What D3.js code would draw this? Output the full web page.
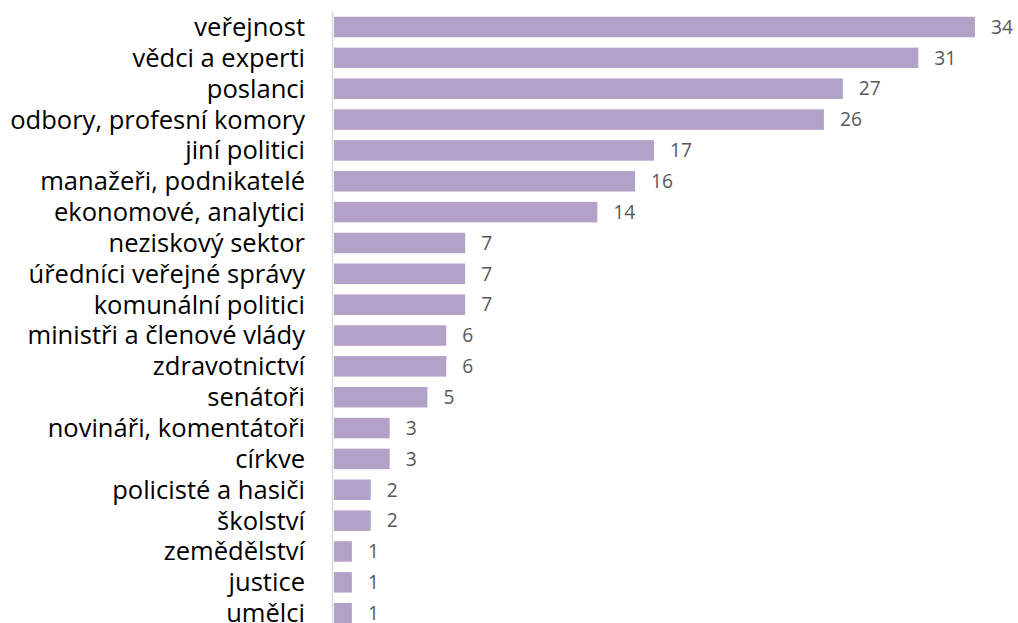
<!DOCTYPE html>
<html>
<head>
<meta charset="utf-8">
<script src="https://cdn.jsdelivr.net/npm/d3@7"></script>
<style>
  html, body { margin: 0; padding: 0; background: #fff; }
  svg { display: block; }
</style>
</head>
<body>
<svg id="chart" width="1018" height="623"></svg>
<script>
const categories = [
  "veřejnost", "vědci a experti", "poslanci", "odbory, profesní komory",
  "jiní politici", "manažeři, podnikatelé", "ekonomové, analytici",
  "neziskový sektor", "úředníci veřejné správy", "komunální politici",
  "ministři a členové vlády", "zdravotnictví", "senátoři",
  "novináři, komentátoři", "církve", "policisté a hasiči", "školství",
  "zemědělství", "justice", "umělci"
];
const values = [34, 31, 27, 26, 17, 16, 14, 7, 7, 7, 6, 6, 5, 3, 3, 2, 2, 1, 1, 1];

const FONT = "'Open Sans', 'Liberation Sans', sans-serif";
const svg = d3.select("#chart");
const x = d3.scaleLinear().domain([0, 34]).range([333, 975]);
const y = d3.scaleBand().domain(categories).range([11.6, 628.6]).paddingInner(0.335).paddingOuter(0.1675);

// size a font so a sample string takes a given width
function fitSize(sample, base, width) {
  const t = svg.append("text").attr("font-family", FONT).attr("font-size", base).text(sample);
  const w = t.node().getComputedTextLength();
  t.remove();
  return base * width / w;
}
const catSize = fitSize("odbory, profesní komory", 20, 295);
const valSize = fitSize("34", 16, 22);

// category axis line
svg.append("line")
  .attr("x1", 332.5).attr("x2", 332.5)
  .attr("y1", 11).attr("y2", 623)
  .attr("stroke", "#d9d9d9").attr("stroke-width", 1.5);

svg.selectAll("rect.bar")
  .data(categories)
  .join("rect")
  .attr("class", "bar")
  .attr("x", x(0) + 1)
  .attr("y", d => y(d))
  .attr("width", (d, i) => x(values[i]) - x(0) - 1)
  .attr("height", y.bandwidth())
  .attr("fill", "#b3a2c8");

svg.selectAll("text.cat")
  .data(categories)
  .join("text")
  .attr("class", "cat")
  .attr("x", 305)
  .attr("y", d => y(d) + y.bandwidth() / 2)
  .attr("dy", "0.35em")
  .attr("text-anchor", "end")
  .attr("font-family", FONT)
  .attr("font-size", catSize)
  .attr("fill", "#000")
  .text(d => d);

svg.selectAll("text.val")
  .data(categories)
  .join("text")
  .attr("class", "val")
  .attr("x", (d, i) => x(values[i]) + 16)
  .attr("y", d => y(d) + y.bandwidth() / 2)
  .attr("dy", "0.35em")
  .attr("font-family", FONT)
  .attr("font-size", valSize)
  .attr("fill", "#595959")
  .text((d, i) => values[i]);
</script>
</body>
</html>
